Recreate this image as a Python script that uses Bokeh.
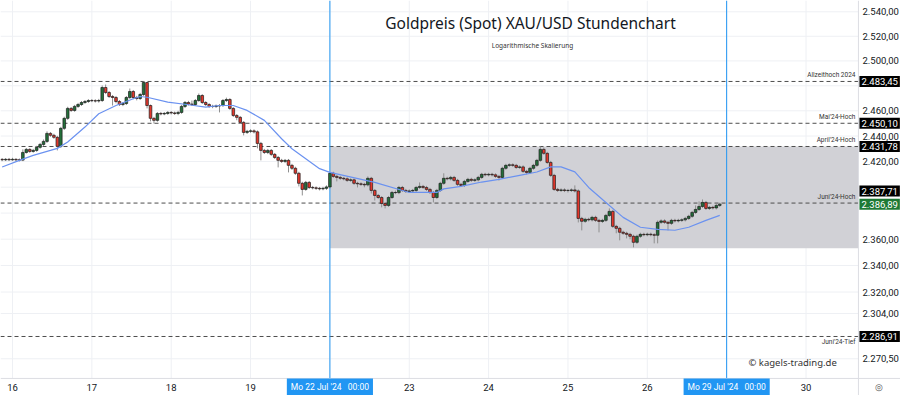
from bokeh.plotting import figure
from bokeh.models import Label, ColumnDataSource, Range1d
from bokeh.embed import file_html
from bokeh.resources import INLINE

# ---------------- data (hourly candles, index = trading hour, 23 per day) ----------------
candle_idx = list(range(-3, 206))

open_ = [
    2421.7, 2421.3, 2421.7,
    # 16 Jul
    2421.3, 2421.7, 2421.3, 2421.1, 2427.1, 2429.5, 2427.9, 2428.7, 2431.1, 2433.4, 2435.8, 2442.1,
    2440.6, 2439.0, 2431.9, 2446.1, 2454.0, 2461.9, 2460.3, 2463.5, 2465.0, 2466.6, 2467.4,
    # 17 Jul
    2468.2, 2468.0, 2467.8, 2468.2, 2478.6, 2474.6, 2471.4, 2470.6, 2467.4, 2465.0, 2465.8, 2470.6,
    2475.4, 2470.6, 2469.8, 2473.0, 2482.6, 2464.2, 2454.0, 2452.4, 2457.9, 2457.5, 2457.9,
    # 18 Jul
    2458.7, 2458.3, 2457.9, 2458.7, 2463.5, 2466.6, 2465.4, 2465.0, 2468.2, 2472.2, 2466.6, 2465.0,
    2463.5, 2463.4, 2463.9, 2464.2, 2468.2, 2469.0, 2461.9, 2456.3, 2454.8, 2450.8, 2442.9,
    # 19 Jul
    2443.7, 2444.1, 2443.3, 2434.2, 2428.7, 2427.1, 2428.7, 2425.6, 2423.2, 2420.9, 2420.1, 2420.9,
    2417.0, 2414.7, 2410.8, 2403.0, 2398.3, 2403.7, 2399.8, 2399.5, 2399.1, 2398.7, 2399.1,
    # 22 Jul
    2400.2, 2410.8, 2408.4, 2407.6, 2406.9, 2406.5, 2405.3, 2405.7, 2403.0, 2402.6, 2402.2, 2401.8,
    2406.9, 2397.5, 2393.6, 2392.0, 2387.4, 2385.9, 2392.0, 2395.9, 2395.8, 2399.8, 2397.5,
    # 23 Jul
    2396.7, 2397.1, 2397.5, 2399.8, 2400.6, 2399.8, 2398.3, 2395.9, 2392.0, 2397.5, 2403.0, 2406.9,
    2406.5, 2407.6, 2405.3, 2402.2, 2401.4, 2404.5, 2406.1, 2405.3, 2405.7, 2407.6, 2410.0,
    # 24 Jul
    2409.6, 2410.0, 2409.6, 2408.4, 2407.6, 2414.7, 2417.0, 2417.4, 2417.0, 2415.4, 2415.8, 2412.3,
    2411.5, 2414.7, 2417.0, 2420.9, 2429.5, 2426.4, 2419.3, 2409.2, 2398.3, 2397.5, 2397.9,
    # 25 Jul
    2397.4, 2397.5, 2397.9, 2397.1, 2375.9, 2373.7, 2375.2, 2374.8, 2376.7, 2374.4, 2373.6, 2374.4,
    2378.2, 2381.3, 2369.8, 2368.3, 2365.3, 2364.5, 2363.7, 2362.2, 2357.6, 2362.2, 2363.7,
    # 26 Jul
    2363.4, 2363.8, 2363.4, 2363.0, 2372.9, 2374.0, 2372.9, 2372.1, 2374.4, 2374.0, 2374.4, 2374.8,
    2375.9, 2377.5, 2380.5, 2382.8, 2385.1, 2388.2, 2383.6, 2384.4, 2384.0, 2385.9,
]

close = [
    2421.3, 2421.7, 2421.3,
    2421.7, 2421.3, 2421.1, 2427.1, 2429.5, 2427.9, 2428.7, 2431.1, 2433.4, 2435.8, 2442.1, 2440.6,
    2439.0, 2431.9, 2446.1, 2454.0, 2461.9, 2460.3, 2463.5, 2465.0, 2466.6, 2467.4, 2468.2,
    2468.0, 2467.8, 2468.2, 2478.6, 2474.6, 2471.4, 2470.6, 2467.4, 2465.0, 2465.8, 2470.6, 2475.4,
    2470.6, 2469.8, 2473.0, 2482.6, 2464.2, 2454.0, 2452.4, 2457.9, 2457.5, 2457.9, 2458.7,
    2458.3, 2457.9, 2458.7, 2463.5, 2466.6, 2465.4, 2465.0, 2468.2, 2472.2, 2466.6, 2465.0, 2463.5,
    2463.4, 2463.9, 2464.2, 2468.2, 2469.0, 2461.9, 2456.3, 2454.8, 2450.8, 2442.9, 2443.7,
    2444.1, 2443.3, 2434.2, 2428.7, 2427.1, 2428.7, 2425.6, 2423.2, 2420.9, 2420.1, 2420.9, 2417.0,
    2414.7, 2410.8, 2403.0, 2398.3, 2403.7, 2399.8, 2399.5, 2399.1, 2398.7, 2399.1, 2400.2,
    2410.8, 2408.4, 2407.6, 2406.9, 2406.5, 2405.3, 2405.7, 2403.0, 2402.6, 2402.2, 2401.8, 2406.9,
    2397.5, 2393.6, 2392.0, 2387.4, 2385.9, 2392.0, 2395.9, 2395.8, 2399.8, 2397.5, 2396.7,
    2397.1, 2397.5, 2399.8, 2400.6, 2399.8, 2398.3, 2395.9, 2392.0, 2397.5, 2403.0, 2406.9, 2406.5,
    2407.6, 2405.3, 2402.2, 2401.4, 2404.5, 2406.1, 2405.3, 2405.7, 2407.6, 2410.0, 2409.6,
    2410.0, 2409.6, 2408.4, 2407.6, 2414.7, 2417.0, 2417.4, 2417.0, 2415.4, 2415.8, 2412.3, 2411.5,
    2414.7, 2417.0, 2420.9, 2429.5, 2426.4, 2419.3, 2409.2, 2398.3, 2397.5, 2397.9, 2397.4,
    2397.5, 2397.9, 2397.1, 2375.9, 2373.7, 2375.2, 2374.8, 2376.7, 2374.4, 2373.6, 2374.4, 2378.2,
    2381.3, 2369.8, 2368.3, 2365.3, 2364.5, 2363.7, 2362.2, 2357.6, 2362.2, 2363.7, 2363.4,
    2363.8, 2363.4, 2363.0, 2372.9, 2374.0, 2372.9, 2372.1, 2374.4, 2374.0, 2374.4, 2374.8, 2375.9,
    2377.5, 2380.5, 2382.8, 2385.1, 2388.2, 2383.6, 2384.4, 2384.0, 2385.9, 2386.89,
]

high = [
    2422.6, 2422.7, 2422.8,
    2422.9, 2422.6, 2422.4, 2429.5, 2430.6, 2430.4, 2429.9, 2432.3, 2434.6, 2437.3, 2443.7, 2443.2,
    2441.8, 2440.2, 2447.3, 2455.3, 2463.2, 2463.0, 2464.7, 2466.3, 2467.8, 2468.6, 2469.3,
    2469.4, 2469.2, 2469.5, 2480.2, 2481.0, 2475.8, 2472.6, 2471.8, 2468.6, 2467.0, 2471.8, 2477.8,
    2476.6, 2471.9, 2474.3, 2483.45, 2483.0, 2465.0, 2455.2, 2459.0, 2459.1, 2459.0, 2459.8,
    2459.8, 2459.4, 2460.0, 2464.6, 2467.8, 2467.9, 2468.2, 2469.4, 2473.8, 2473.3, 2467.7, 2466.1,
    2464.8, 2465.0, 2465.4, 2469.4, 2470.5, 2470.1, 2462.9, 2457.4, 2455.9, 2451.8, 2444.9,
    2445.4, 2445.3, 2444.4, 2435.4, 2429.9, 2429.9, 2429.8, 2426.7, 2424.3, 2422.1, 2422.0, 2422.0,
    2418.2, 2415.9, 2412.0, 2404.2, 2404.9, 2404.8, 2401.0, 2400.6, 2400.2, 2400.3, 2401.4,
    2411.6, 2412.0, 2409.6, 2408.8, 2408.0, 2407.7, 2406.9, 2406.8, 2404.2, 2403.8, 2403.4, 2408.4,
    2408.0, 2398.6, 2394.8, 2393.1, 2388.6, 2393.2, 2397.1, 2397.4, 2401.0, 2401.0, 2398.7,
    2398.3, 2398.7, 2401.0, 2403.7, 2401.8, 2401.0, 2399.5, 2397.1, 2398.7, 2404.2, 2410.8, 2408.1,
    2408.8, 2408.8, 2406.5, 2403.4, 2405.7, 2407.3, 2407.3, 2406.9, 2408.8, 2411.2, 2411.2,
    2411.2, 2411.2, 2410.8, 2409.6, 2415.9, 2418.2, 2418.6, 2418.6, 2418.2, 2417.0, 2417.0, 2413.5,
    2415.9, 2418.2, 2422.1, 2431.9, 2431.0, 2427.6, 2420.5, 2410.4, 2399.5, 2399.1, 2399.1,
    2398.7, 2399.1, 2401.4, 2398.3, 2377.1, 2376.4, 2376.4, 2377.9, 2377.9, 2375.6, 2375.6, 2379.4,
    2383.6, 2382.5, 2371.0, 2369.5, 2366.5, 2365.7, 2364.9, 2363.4, 2363.4, 2364.9, 2364.9,
    2365.0, 2365.0, 2364.6, 2374.3, 2375.2, 2375.2, 2374.1, 2375.6, 2375.6, 2375.6, 2376.0, 2377.1,
    2378.7, 2381.7, 2385.9, 2389.0, 2390.5, 2389.4, 2385.6, 2385.6, 2387.1, 2388.0,
]

low = [
    2420.3, 2420.4, 2420.5,
    2420.6, 2420.2, 2420.0, 2420.3, 2426.2, 2426.8, 2426.9, 2427.6, 2430.0, 2432.2, 2434.6, 2439.4,
    2437.8, 2428.7, 2430.6, 2444.8, 2452.8, 2459.1, 2459.2, 2462.3, 2463.9, 2465.5, 2466.3,
    2466.9, 2466.6, 2466.5, 2467.0, 2473.3, 2470.2, 2464.2, 2466.0, 2463.8, 2463.7, 2464.6, 2469.4,
    2469.2, 2468.3, 2468.6, 2471.8, 2461.9, 2451.6, 2449.9, 2451.3, 2456.4, 2456.5, 2456.8,
    2457.1, 2456.7, 2456.5, 2457.6, 2462.2, 2464.2, 2463.8, 2463.9, 2467.1, 2465.4, 2463.8, 2462.3,
    2462.1, 2462.3, 2458.7, 2463.1, 2467.0, 2460.7, 2455.1, 2452.5, 2449.6, 2440.5, 2441.6,
    2442.5, 2442.1, 2430.3, 2420.9, 2425.9, 2425.8, 2424.4, 2422.0, 2415.4, 2418.9, 2418.8, 2411.5,
    2413.4, 2409.6, 2400.6, 2393.6, 2397.2, 2398.6, 2398.3, 2397.9, 2397.5, 2397.6, 2397.9,
    2399.0, 2407.2, 2404.5, 2405.7, 2405.3, 2404.1, 2404.2, 2401.8, 2399.8, 2401.0, 2399.9, 2400.6,
    2395.1, 2389.7, 2390.8, 2384.4, 2383.6, 2384.7, 2390.8, 2394.6, 2394.6, 2396.3, 2395.5,
    2395.5, 2395.9, 2396.3, 2398.6, 2398.6, 2397.1, 2394.7, 2388.2, 2390.8, 2396.3, 2401.8, 2405.3,
    2405.3, 2404.1, 2401.0, 2400.2, 2400.2, 2403.3, 2404.1, 2404.1, 2404.5, 2406.4, 2408.4,
    2408.4, 2408.4, 2407.2, 2405.2, 2406.4, 2413.5, 2415.8, 2415.8, 2414.2, 2414.2, 2411.1, 2409.9,
    2410.3, 2413.5, 2415.8, 2419.7, 2425.2, 2418.1, 2408.0, 2397.1, 2396.3, 2396.3, 2396.2,
    2395.9, 2396.3, 2395.9, 2372.8, 2366.7, 2372.5, 2373.6, 2373.6, 2373.2, 2365.2, 2372.4, 2373.2,
    2377.0, 2368.6, 2364.5, 2359.1, 2363.3, 2360.6, 2359.9, 2353.8, 2356.4, 2361.0, 2362.2,
    2362.2, 2362.2, 2356.8, 2356.8, 2371.7, 2371.7, 2366.7, 2370.9, 2372.8, 2372.8, 2373.2, 2373.6,
    2374.7, 2376.3, 2379.3, 2381.6, 2383.9, 2382.4, 2382.4, 2382.8, 2382.8, 2384.7,
]

# moving average (blue line)
ma_idx = [-3, 2, 6, 11, 13, 16, 21, 25, 30, 35, 37, 39, 45, 51, 56, 60, 64, 68, 73, 78, 81, 85,
          89, 92, 105, 115, 123, 125, 130, 136, 141, 147, 152, 156, 159, 163, 167, 172, 177, 182,
          187, 192, 196, 201, 205]
ma_val = [2415.7, 2420.9, 2424.8, 2428.7, 2430.3, 2435.3, 2447.1, 2457.7, 2464.2, 2469.6, 2471.4,
          2470.8, 2466.9, 2464.8, 2462.9, 2464.2, 2464.2, 2460.3, 2452.4, 2437.9, 2430.0, 2422.2,
          2414.4, 2411.5, 2403.7, 2395.9, 2395.9, 2398.7, 2400.6, 2404.0, 2406.1, 2409.2, 2411.8,
          2415.8, 2415.8, 2411.9, 2399.8, 2388.2, 2376.7, 2369.1, 2367.5, 2366.8, 2369.1, 2374.4,
          2378.2]

day_ticks = [0, 23, 46, 69, 92, 115, 138, 161, 184, 207, 230]
day_labels = ["16", "17", "18", "19", "22", "23", "24", "25", "26", "29", "30"]
price_axis_ticks = [2270.5, 2304, 2320, 2340, 2360, 2420, 2440, 2460, 2500, 2520, 2540]
price_grid_ticks = [2270.5, 2304, 2320, 2340, 2360, 2380, 2400, 2420, 2440, 2460, 2480, 2500, 2520, 2540]

level_values = [2483.45, 2450.10, 2431.78, 2387.71, 2286.91]
level_names = ["Allzeithoch 2024", "Mai'24-Hoch", "April'24-Hoch", "Juni'24-Hoch", "Juni'24-Tief"]
last_price = 2386.89
zone_low, zone_high = 2353.0, 2431.78
marker_idx = [92, 207]
NB = "\u00a0"
marker_texts = [f"Mo 22 Jul '24{NB * 3}00:00", f"Mo 29 Jul '24{NB * 3}00:00"]


def de_price(v):
    s = f"{v:,.2f}"
    return s.replace(",", "X").replace(".", ",").replace("X", ".")


# ---------------- figure: the frame covers the whole canvas, scales do all mapping ----------------
W, H = 900, 395
X0, X_END = -3.48, 257.39      # full canvas width in candle units
X_AX = 245.2                   # right price-scale boundary
Y0, Y1 = 2243.7, 2549.3        # full canvas height (log)
Y_AX = 2256.1                  # time-scale boundary
FONT = "Roboto"

p = figure(width=W, height=H, x_range=Range1d(X0, X_END), y_range=Range1d(Y0, Y1),
           y_axis_type="log", x_axis_location=None, y_axis_location=None,
           output_backend="svg", toolbar_location=None,
           min_border_left=0, min_border_right=0, min_border_top=0, min_border_bottom=0)
p.outline_line_color = None
p.background_fill_color = "white"
p.border_fill_color = "white"
p.grid.visible = False

# grid lines
p.segment(x0=day_ticks, x1=day_ticks, y0=[Y_AX] * len(day_ticks), y1=[Y1] * len(day_ticks),
          line_color="#eef0f4", line_width=1)
p.segment(x0=[X0] * len(price_grid_ticks), x1=[X_AX] * len(price_grid_ticks),
          y0=price_grid_ticks, y1=price_grid_ticks, line_color="#eef0f4", line_width=1)

# consolidation zone
p.quad(left=[marker_idx[0]], right=[X_AX], bottom=[zone_low], top=[zone_high],
       fill_color="#d1d1d6", line_color=None)

# horizontal levels
p.segment(x0=[X0] * len(level_values), x1=[X_AX] * len(level_values),
          y0=level_values, y1=level_values, line_color="#4d4d4d", line_dash="4 3", line_width=1)

# vertical marker lines
p.segment(x0=marker_idx, x1=marker_idx, y0=[Y_AX] * 2, y1=[Y1] * 2,
          line_color="#2196f3", line_width=1)

# candles
tops = [max(o, c) for o, c in zip(open_, close)]
bots = [min(o, c) for o, c in zip(open_, close)]
fills = ["#23703a" if c >= o else "#e3372c" for o, c in zip(open_, close)]
src = ColumnDataSource(dict(x=candle_idx, top=tops, bottom=bots, high=high, low=low, fill=fills))
p.segment(x0="x", y0="low", x1="x", y1="high", source=src, line_color="#8f8f8f", line_width=1)
p.vbar(x="x", width=0.76, top="top", bottom="bottom", fill_color="fill",
       line_color="#1c1c1c", line_width=0.7, source=src)

# moving average
p.line(ma_idx, ma_val, line_color="#6b92f0", line_width=1.2)

# scale borders
p.segment(x0=[X0, X_AX], x1=[X_END, X_AX], y0=[Y_AX, Y0], y1=[Y_AX, Y1],
          line_color="#dcdee3", line_width=1)

# price scale labels
for t in price_axis_ticks:
    p.add_layout(Label(x=X_AX, y=t, x_offset=4, text=de_price(t), text_align="left",
                       text_baseline="middle", text_font_size="9.5px", text_font=FONT,
                       text_color="#131722"))

# time scale labels (22 and 29 are covered by the marker boxes)
for t, l in zip(day_ticks, day_labels):
    if t in marker_idx:
        continue
    p.add_layout(Label(x=t, y=Y_AX, y_offset=-9, text=l, text_align="center",
                       text_baseline="middle", text_font_size="9.5px", text_font=FONT,
                       text_color="#131722"))

# level names
for v, n in zip(level_values, level_names):
    below = n.endswith("Tief")
    p.add_layout(Label(x=X_AX, y=v, x_offset=-3, y_offset=-2 if below else 2, text=n,
                       text_align="right", text_baseline="top" if below else "bottom",
                       text_font_size="6.5px", text_font=FONT, text_color="#333333"))

# price boxes on the price scale
for v in level_values:
    p.add_layout(Label(x=X_AX, y=v, x_offset=1, y_offset=12 if v == 2387.71 else 0,
                       text=de_price(v), text_align="left", text_baseline="middle",
                       text_font_size="9.5px", text_font=FONT, text_color="white",
                       background_fill_color="#000000", padding=2))
p.add_layout(Label(x=X_AX, y=last_price, x_offset=1, text=de_price(last_price),
                   text_align="left", text_baseline="middle", text_font_size="9.5px",
                   text_font=FONT, text_color="white",
                   background_fill_color="#1e7a35", padding=2))

# date markers on the time scale
for m, t in zip(marker_idx, marker_texts):
    p.add_layout(Label(x=m, y=Y_AX, y_offset=-9, text=t, text_align="center",
                       text_baseline="middle", text_font_size="8.5px", text_font=FONT,
                       text_color="white", background_fill_color="#2196f3", padding=4))

# corner icon
p.add_layout(Label(x=X_AX, x_offset=21, y=Y_AX, y_offset=-9, text="\u25ce", text_align="center",
                   text_baseline="middle", text_font_size="9px", text_color="#555555"))

# titles and watermark
p.add_layout(Label(x=530, y=373, x_units="screen", y_units="screen",
                   text="Goldpreis (Spot) XAU/USD Stundenchart", text_align="center",
                   text_baseline="middle", text_font_size="15.5px", text_font="Noto Sans",
                   text_color="#131722"))
p.add_layout(Label(x=532, y=350, x_units="screen", y_units="screen",
                   text="Logarithmische Skalierung", text_align="center",
                   text_baseline="middle", text_font_size="6.5px", text_font="Noto Sans",
                   text_color="#333333"))
p.add_layout(Label(x=748, y=33, x_units="screen", y_units="screen",
                   text="\u00a9 kagels-trading.de", text_align="left",
                   text_baseline="middle", text_font_size="9.5px", text_font="Noto Sans",
                   text_color="#333333"))

open("out.html", "w").write(file_html(p, INLINE))
